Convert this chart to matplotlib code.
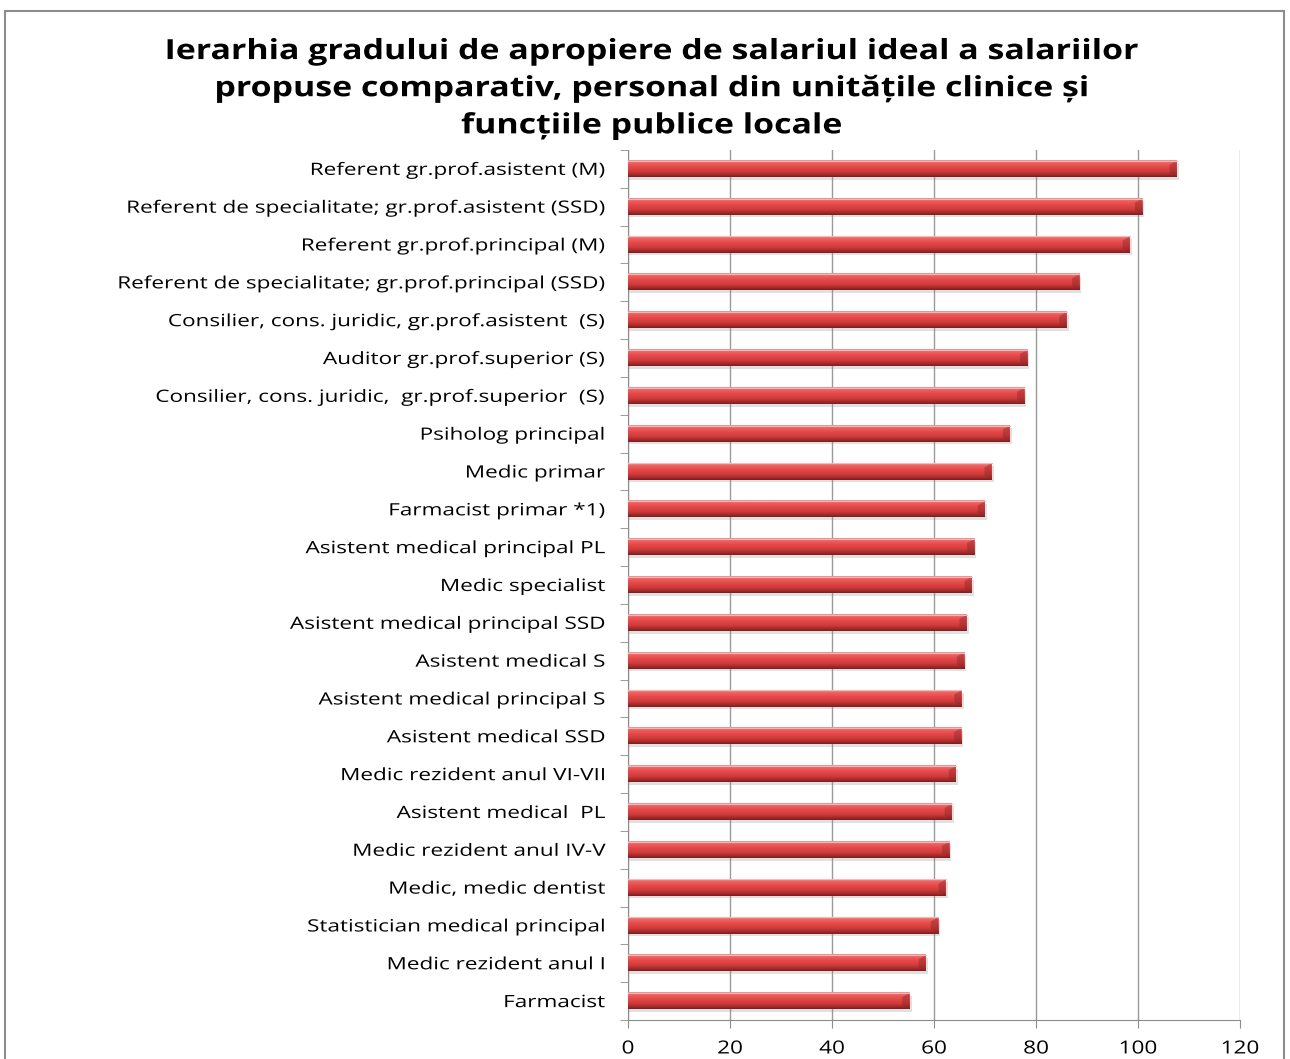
import numpy as np
import matplotlib
matplotlib.use("Agg")
import matplotlib.pyplot as plt
from matplotlib.colors import LinearSegmentedColormap
from matplotlib.patches import Rectangle, Polygon
from matplotlib.patheffects import AbstractPathEffect
from matplotlib.transforms import Affine2D

# categories from top to bottom
labels = [
    "Referent gr.prof.asistent (M)",
    "Referent de specialitate; gr.prof.asistent (SSD)",
    "Referent gr.prof.principal (M)",
    "Referent de specialitate; gr.prof.principal (SSD)",
    "Consilier, cons. juridic, gr.prof.asistent  (S)",
    "Auditor gr.prof.superior (S)",
    "Consilier, cons. juridic,  gr.prof.superior  (S)",
    "Psiholog principal",
    "Medic primar",
    "Farmacist primar *1)",
    "Asistent medical principal PL",
    "Medic specialist",
    "Asistent medical principal SSD",
    "Asistent medical S",
    "Asistent medical principal S",
    "Asistent medical SSD",
    "Medic rezident anul VI-VII",
    "Asistent medical  PL",
    "Medic rezident anul IV-V",
    "Medic, medic dentist",
    "Statistician medical principal",
    "Medic rezident anul I",
    "Farmacist",
]
values = [107.6, 100.8, 98.4, 88.5, 86.0, 78.3, 77.7, 74.9, 71.3, 70.0,
          67.9, 67.4, 66.4, 65.9, 65.4, 65.3, 64.3, 63.5, 63.0, 62.3,
          60.8, 58.4, 55.2]
xticks = [0, 20, 40, 60, 80, 100, 120]

title = ("Ierarhia gradului de apropiere de salariul ideal a salariilor\n"
         "propuse comparativ, personal din unitățile clinice și\n"
         "funcțiile publice locale")


# the original picture is stretched sideways, so widen the glyphs the same way
class HStretch(AbstractPathEffect):
    def __init__(self, sx, where='center'):
        super().__init__()
        self.sx = sx
        self.where = where

    def draw_path(self, renderer, gc, tpath, affine, rgbFace=None):
        ext = tpath.get_extents(affine)
        x0 = {'left': ext.x0, 'right': ext.x1,
              'center': (ext.x0 + ext.x1) / 2}[self.where]
        t = affine + Affine2D().translate(-x0, 0).scale(self.sx, 1).translate(x0, 0)
        renderer.draw_path(gc, tpath, t, rgbFace)


plt.rcParams['font.family'] = ['Open Sans', 'DejaVu Sans']

fig = plt.figure(figsize=(12.9, 10.59), dpi=100)
ax = fig.add_axes([0.4868, 0.0368, 0.4744, 0.8216])

# outer chart frame
fig.patches.append(Rectangle((0.004, -0.05), 0.991, 1.04, transform=fig.transFigure,
                             fill=False, edgecolor='#8c8c8c', lw=1.5))

# cylinder-like shading for the bars
bar_cmap = LinearSegmentedColormap.from_list('barshade', [
    (0.0, '#f29a9a'), (0.12, '#f06464'), (0.4, '#e54848'),
    (0.65, '#d23c3c'), (0.85, '#a82c2c'), (1.0, '#7a1e1e')])
grad = np.linspace(0, 1, 64).reshape(-1, 1)

h = 0.43
n = len(values)
for i, v in enumerate(values):
    top, bot = i - h / 2, i + h / 2
    # soft shadow
    ax.add_patch(Rectangle((0, top + 0.07), v + 0.4, h, color='#888888',
                           alpha=0.25, lw=0, zorder=2))
    ax.imshow(grad, extent=[0, v, bot, top], aspect='auto', cmap=bar_cmap,
              origin='upper', zorder=3, interpolation='bilinear')
    # bevelled end
    ax.add_patch(Polygon([(v - 1.4, top + 0.25 * h), (v, top), (v, bot),
                          (v - 1.4, bot - 0.25 * h)],
                         closed=True, color='#8a2828', alpha=0.45, lw=0, zorder=4))
    ax.plot([0, v], [top, top], color='#f7b8b8', lw=0.8, zorder=4)

ax.set_xlim(0, 120)
ax.set_ylim(n - 0.5, -0.5)
ax.set_xticks(xticks)
ax.set_xticklabels([str(t) for t in xticks], fontsize=13)
ax.set_yticks(range(n))
ax.set_yticklabels(labels, fontsize=12.2)
ax.set_yticks(np.arange(-0.5, n, 1), minor=True)
ax.tick_params(axis='y', which='major', length=0, pad=16.5)
ax.tick_params(axis='y', which='minor', length=6, color='#8c8c8c', direction='out')
ax.tick_params(axis='x', length=6, color='#8c8c8c', direction='out', pad=8)

for t in ax.get_yticklabels():
    t.set_path_effects([HStretch(1.33, 'right')])
for t in ax.get_xticklabels():
    t.set_path_effects([HStretch(1.25, 'center')])

ax.grid(axis='x', color='#9a9a9a', lw=1, zorder=0)
ax.set_axisbelow(True)
for s in ['top', 'right']:
    ax.spines[s].set_visible(False)
ax.spines['left'].set_color('#8c8c8c')
ax.spines['bottom'].set_color('#8c8c8c')

ttl = fig.text(0.505, 0.965, title, ha='center', va='top', fontsize=20,
               fontweight='bold', linespacing=1.37)
ttl.set_path_effects([HStretch(1.22, 'center')])

fig.savefig('out.png', dpi=100)
